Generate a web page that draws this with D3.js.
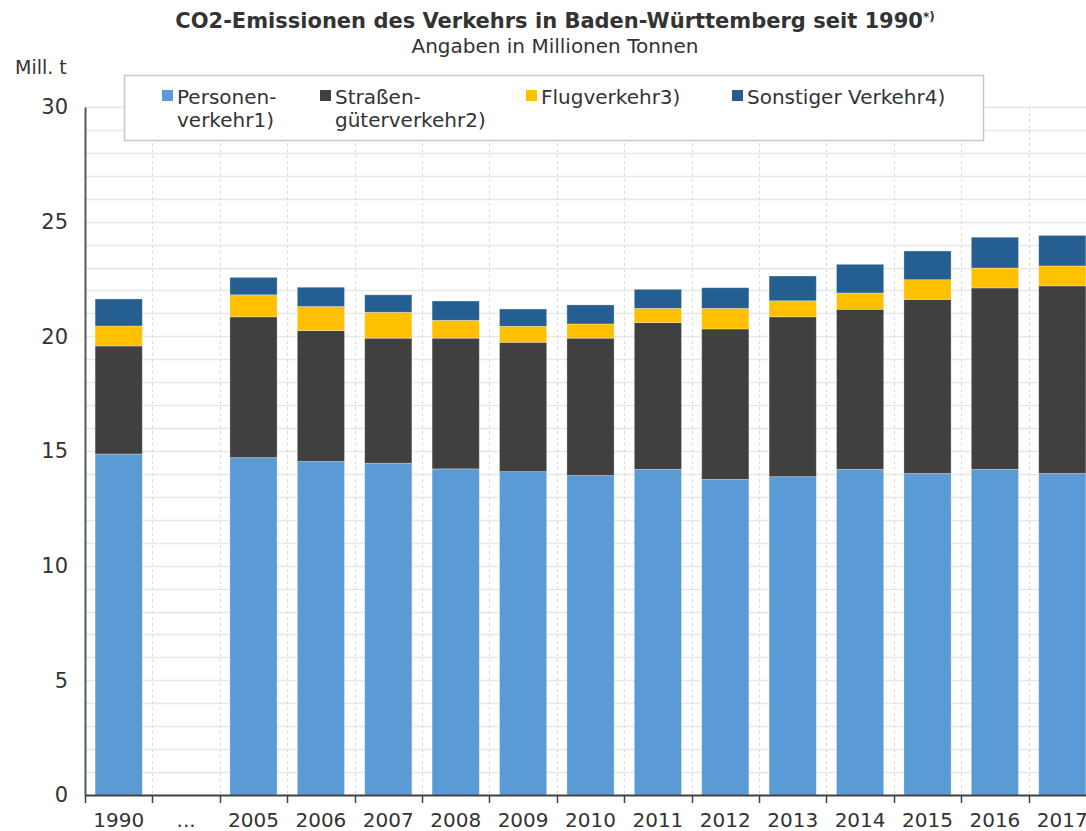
<!DOCTYPE html>
<html>
<head>
<meta charset="utf-8">
<script src="https://cdn.jsdelivr.net/npm/d3@7"></script>
<style>
  body { margin: 0; background: #fff; overflow: hidden; }
  text { font-family: "DejaVu Sans", Verdana, sans-serif; fill: #333; }
</style>
</head>
<body>
<svg id="chart" width="1086" height="831"></svg>
<script>
var years = ['1990', '...', '2005', '2006', '2007', '2008', '2009', '2010', '2011', '2012', '2013', '2014', '2015', '2016', '2017'];

var personenverkehr = [14.87, null, 14.71, 14.54, 14.47, 14.22, 14.10, 13.93, 14.20, 13.76, 13.88, 14.20, 14.02, 14.20, 14.02];
var strassengueter = [4.71, null, 6.14, 5.71, 5.45, 5.70, 5.64, 5.99, 6.40, 6.56, 6.97, 6.98, 7.59, 7.91, 8.18];
var flugverkehr = [0.87, null, 0.96, 1.05, 1.13, 0.78, 0.70, 0.62, 0.62, 0.90, 0.70, 0.71, 0.86, 0.87, 0.87];
var sonstiger = [1.18, null, 0.76, 0.84, 0.76, 0.84, 0.75, 0.83, 0.83, 0.90, 1.08, 1.25, 1.25, 1.34, 1.33];

var seriesKeys = ['personen', 'strasse', 'flug', 'sonst'];
var seriesLabels = [['Personen-', 'verkehr1)'], ['Straßen-', 'güterverkehr2)'], ['Flugverkehr3)'], ['Sonstiger Verkehr4)']];
var seriesColors = ['#5b9bd5', '#404040', '#ffc000', '#255e91'];

var yTicks = [0, 5, 10, 15, 20, 25, 30];

var rows = years.map(function(year, i) {
  return {
    year: year,
    personen: personenverkehr[i] || 0,
    strasse: strassengueter[i] || 0,
    flug: flugverkehr[i] || 0,
    sonst: sonstiger[i] || 0
  };
});

var svg = d3.select('#chart');

var plotLeft = 85;
var plotTop = 107;
var plotBottom = 795;
var step = 67.4;

var x = d3.scaleBand()
  .domain(years)
  .range([plotLeft, plotLeft + step * years.length])
  .paddingInner(0.3)
  .paddingOuter(0.15);

var y = d3.scaleLinear()
  .domain([0, 30])
  .range([plotBottom, plotTop]);

function sepX(d) {
  return Math.round(x(d) - x.step() * x.paddingInner() / 2) + 0.5;
}

// grid
var grid = svg.append('g');
grid.selectAll('.hgrid')
  .data(d3.range(1, 31))
  .enter()
  .append('line')
  .attr('x1', plotLeft)
  .attr('x2', 1086)
  .attr('y1', function(d) { return Math.round(y(d)) + 0.5; })
  .attr('y2', function(d) { return Math.round(y(d)) + 0.5; })
  .attr('stroke', '#e8e8e8')
  .attr('stroke-width', 1.5);

grid.selectAll('.vgrid')
  .data(years.slice(1))
  .enter()
  .append('line')
  .attr('x1', sepX)
  .attr('x2', sepX)
  .attr('y1', plotTop)
  .attr('y2', plotBottom)
  .attr('stroke', '#dcdcdc')
  .attr('stroke-dasharray', '3,3');

// stacked bars
var stacked = d3.stack().keys(seriesKeys)(rows);

svg.append('g')
  .selectAll('g')
  .data(stacked)
  .enter()
  .append('g')
  .attr('fill', function(d, i) { return seriesColors[i]; })
  .selectAll('rect')
  .data(function(d) { return d.filter(function(p) { return p[1] > p[0]; }); })
  .enter()
  .append('rect')
  .attr('x', function(d) { return x(d.data.year); })
  .attr('width', x.bandwidth())
  .attr('y', function(d) { return y(d[1]); })
  .attr('height', function(d) { return y(d[0]) - y(d[1]); })
  .attr('stroke', '#ffffff')
  .attr('stroke-opacity', 0.35)
  .attr('stroke-width', 0.8);

// y axis
var yAxis = svg.append('g')
  .attr('transform', 'translate(' + plotLeft + ',0)')
  .call(d3.axisLeft(y).tickValues(yTicks).tickSize(0).tickPadding(17));
yAxis.select('.domain').attr('stroke', '#595959').attr('stroke-width', 2);
yAxis.selectAll('text')
  .style('font-family', '"DejaVu Sans", Verdana, sans-serif')
  .style('font-size', '21px')
  .attr('fill', '#333');

// x axis
var xAxis = svg.append('g')
  .attr('transform', 'translate(0,' + plotBottom + ')')
  .call(d3.axisBottom(x).tickSize(0).tickPadding(18));
xAxis.select('.domain').attr('stroke', '#404040').attr('stroke-width', 2);
xAxis.selectAll('text')
  .style('font-family', '"DejaVu Sans", Verdana, sans-serif')
  .style('font-size', '20px')
  .attr('fill', '#333');

xAxis.selectAll('.sep')
  .data(years)
  .enter()
  .append('line')
  .attr('x1', sepX)
  .attr('x2', sepX)
  .attr('y1', 0)
  .attr('y2', 8)
  .attr('stroke', '#404040')
  .attr('stroke-width', 1.5);

// titles
var title = svg.append('text')
  .attr('x', 555)
  .attr('y', 28)
  .attr('text-anchor', 'middle')
  .style('font-size', '21px')
  .style('font-weight', 'bold')
  .attr('fill', '#222');
title.append('tspan').text('CO2-Emissionen des Verkehrs in Baden-Württemberg seit 1990');
title.append('tspan').attr('dy', -7).style('font-size', '12px').text('*)');

svg.append('text')
  .attr('x', 555)
  .attr('y', 53)
  .attr('text-anchor', 'middle')
  .style('font-size', '20px')
  .text('Angaben in Millionen Tonnen');

svg.append('text')
  .attr('x', 15)
  .attr('y', 74)
  .style('font-size', '19px')
  .text('Mill. t');

// legend
var legend = svg.append('g');
legend.append('rect')
  .attr('x', 124.5)
  .attr('y', 75.5)
  .attr('width', 859)
  .attr('height', 65)
  .attr('fill', '#ffffff')
  .attr('stroke', '#c8c8c8')
  .attr('stroke-width', 1.5);

var legendX = [162, 320, 526, 732];
var items = legend.selectAll('.item')
  .data(seriesKeys)
  .enter()
  .append('g')
  .attr('transform', function(d, i) { return 'translate(' + legendX[i] + ',0)'; });

items.append('rect')
  .attr('x', 0)
  .attr('y', 90)
  .attr('width', 11)
  .attr('height', 11)
  .attr('fill', function(d, i) { return seriesColors[i]; });

items.each(function(d, i) {
  var g = d3.select(this);
  seriesLabels[i].forEach(function(line, j) {
    g.append('text')
      .attr('x', 15)
      .attr('y', 104 + j * 23)
      .style('font-size', '20px')
      .text(line);
  });
});
</script>
</body>
</html>
